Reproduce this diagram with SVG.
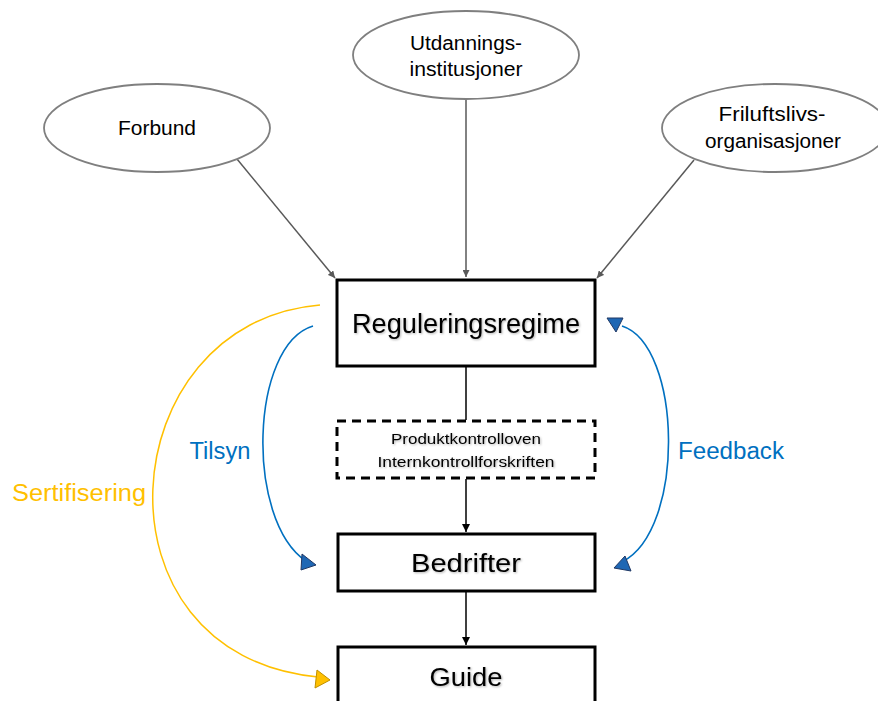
<svg xmlns="http://www.w3.org/2000/svg" width="878" height="701" viewBox="0 0 878 701">
  <style>
    .ell { fill: #ffffff; stroke: #7f7f7f; stroke-width: 1.8; }
    .box { fill: #ffffff; stroke: #000000; stroke-width: 3; }
    .dash { stroke-dasharray: 9 6; }
    .t { font-family: "Liberation Sans", Arial, sans-serif; fill: #000000; text-anchor: middle; }
    .shadow { filter: url(#soft); }
    .gray { stroke: #595959; stroke-width: 1.5; fill: none; marker-end: url(#ga); }
    .blk { stroke: #000000; stroke-width: 1.5; fill: none; }
    .blue { stroke: #0070c0; stroke-width: 1.6; fill: none; }
    .yel { stroke: #ffc000; stroke-width: 1.5; fill: none; }
    .bhead { fill: #1f67b4; stroke: #203864; stroke-width: 1; }
    .yhead { fill: #ffc000; stroke: #bf9000; stroke-width: 1; }
  </style>
  <defs>
    <marker id="ga" viewBox="0 0 10 10" refX="10" refY="5" markerWidth="7" markerHeight="7" markerUnits="userSpaceOnUse" orient="auto">
      <path d="M0,0 L10,5 L0,10 z" fill="#595959"/>
    </marker>
    <marker id="ka" viewBox="0 0 10 10" refX="10" refY="5" markerWidth="8" markerHeight="8" markerUnits="userSpaceOnUse" orient="auto">
      <path d="M0,0 L10,5 L0,10 z" fill="#000000"/>
    </marker>
    <filter id="soft" x="-10%" y="-30%" width="120%" height="160%">
      <feDropShadow dx="1" dy="1" stdDeviation="0.8" flood-color="#000000" flood-opacity="0.3"/>
    </filter>
  </defs>
  <rect width="878" height="701" fill="#ffffff"/>

  <!-- connectors -->
  <g id="connectors">
    <line class="gray" x1="237" y1="159" x2="335" y2="278"/>
    <line class="gray" x1="466" y1="99" x2="466" y2="277"/>
    <line class="gray" x1="694" y1="160" x2="597" y2="278"/>
    <line class="blk" x1="466" y1="367" x2="466" y2="420"/>
    <line class="blk" x1="466" y1="479" x2="466" y2="532" marker-end="url(#ka)"/>
    <line class="blk" x1="466" y1="592" x2="466" y2="645" marker-end="url(#ka)"/>

    <!-- Tilsyn -->
    <path class="blue" d="M313,326 C250,345 245,520 306,561"/>
    <polygon class="bhead" points="316,565 302,554 301,570"/>
    <!-- Feedback (both ends) -->
    <path class="blue" d="M622,326 C682,345 686,530 622,562"/>
    <polygon class="bhead" points="607,318 623,318 616,332"/>
    <polygon class="bhead" points="614,568 625,556 631,571"/>
    <!-- Sertifisering -->
    <path class="yel" d="M320,305 C110,322 85,655 318,677"/>
    <polygon class="yhead" points="330,680 317,670 315,688"/>

    <text class="t" x="220" y="459" font-size="23" style="fill:#0070c0" textLength="61" lengthAdjust="spacingAndGlyphs">Tilsyn</text>
    <text class="t" x="731" y="459" font-size="23" style="fill:#0070c0" textLength="106" lengthAdjust="spacingAndGlyphs">Feedback</text>
    <text class="t" x="79" y="501" font-size="23" style="fill:#ffc000" textLength="134" lengthAdjust="spacingAndGlyphs">Sertifisering</text>
  </g>

  <g id="forbund">
    <ellipse class="ell" cx="157" cy="128" rx="113" ry="44"/>
    <text class="t" x="157" y="135" font-size="20" textLength="78" lengthAdjust="spacingAndGlyphs">Forbund</text>
  </g>

  <g id="utdanning">
    <ellipse class="ell" cx="466" cy="55" rx="113" ry="44"/>
    <text class="t" x="466" y="50" font-size="20" textLength="112" lengthAdjust="spacingAndGlyphs">Utdannings-</text>
    <text class="t" x="466" y="76" font-size="20" textLength="113" lengthAdjust="spacingAndGlyphs">institusjoner</text>
  </g>

  <g id="friluftsliv">
    <ellipse class="ell" cx="775" cy="128" rx="113" ry="44"/>
    <text class="t" x="772" y="121" font-size="20" textLength="107" lengthAdjust="spacingAndGlyphs">Friluftslivs-</text>
    <text class="t" x="773" y="148" font-size="20" textLength="136" lengthAdjust="spacingAndGlyphs">organisasjoner</text>
  </g>

  <g id="reguleringsregime">
    <rect class="box" x="337" y="280" width="258" height="86"/>
    <text class="t shadow" x="466" y="333" font-size="27" textLength="228" lengthAdjust="spacingAndGlyphs">Reguleringsregime</text>
  </g>

  <g id="lovverk">
    <rect class="box dash" x="337" y="421" width="258" height="57"/>
    <text class="t shadow" x="466" y="444" font-size="14" textLength="150" lengthAdjust="spacingAndGlyphs">Produktkontrolloven</text>
    <text class="t shadow" x="466" y="467" font-size="14" textLength="177" lengthAdjust="spacingAndGlyphs">Internkontrollforskriften</text>
  </g>

  <g id="bedrifter">
    <rect class="box" x="338" y="534" width="257" height="57"/>
    <text class="t shadow" x="466" y="572" font-size="25" textLength="110" lengthAdjust="spacingAndGlyphs">Bedrifter</text>
  </g>

  <g id="guide">
    <rect class="box" x="338" y="647" width="257" height="60"/>
    <text class="t shadow" x="466" y="686" font-size="25" textLength="73" lengthAdjust="spacingAndGlyphs">Guide</text>
  </g>
</svg>
